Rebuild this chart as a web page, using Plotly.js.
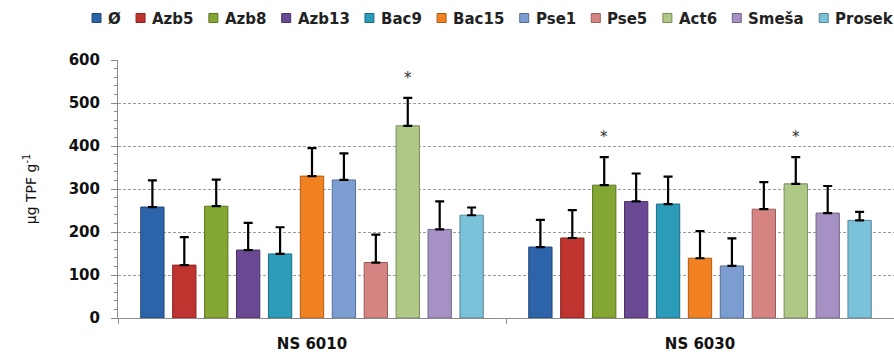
<!DOCTYPE html>
<html>
<head>
<meta charset="utf-8">
<script src="https://cdn.plot.ly/plotly-3.0.1.min.js"></script>
<style>html,body{margin:0;padding:0;background:#fff}#chart{width:894px;height:354px}</style>
</head>
<body>
<div id="chart"></div>
<script>
// ---- data ----
const categories = ['NS 6010', 'NS 6030'];
const seriesNames = ['Ø', 'Azb5', 'Azb8', 'Azb13', 'Bac9', 'Bac15', 'Pse1', 'Pse5', 'Act6', 'Smeša', 'Prosek'];
const valuesNS6010 = [258, 123, 260, 158, 149, 330, 321, 129, 447, 206, 239];
const valuesNS6030 = [165, 186, 309, 271, 265, 139, 121, 253, 312, 244, 227];
const errorsNS6010 = [62, 65, 62, 63, 62, 65, 62, 65, 65, 65, 18];
const errorsNS6030 = [63, 65, 65, 65, 64, 63, 64, 63, 62, 63, 20];
const significantNS6010 = [0, 0, 0, 0, 0, 0, 0, 0, 1, 0, 0];
const significantNS6030 = [0, 0, 1, 0, 0, 0, 0, 0, 1, 0, 0];
const yTickValues = [0, 100, 200, 300, 400, 500, 600];
const yTitle = 'μg TPF g<sup>-1</sup>';

// ---- styles ----
const colors = ['#2D64A9', '#C0342F', '#84A633', '#6A4893', '#2A9CBA', '#F28121', '#7B9DD2', '#D68482', '#AFC886', '#A591C4', '#7AC2D9'];
const edgeColors = ['#1E4676', '#86221F', '#5C7422', '#4A3267', '#1D6D82', '#A95A16', '#566E93', '#965C5B', '#7A8C5E', '#736589', '#558797'];

const W = 894, H = 354;
const M = {l: 118, r: 0, t: 60, b: 36};
const bargap = 0.095, bargroupgap = 0.27;
const plotW = W - M.l - M.r, plotH = H - M.t - M.b;
const font = "DejaVu Sans";

const traces = seriesNames.map((name, i) => ({
  type: 'bar',
  name: name,
  x: categories,
  y: [valuesNS6010[i], valuesNS6030[i]],
  marker: {color: colors[i], line: {color: edgeColors[i], width: 1}},
  error_y: {type: 'data', symmetric: false, array: [errorsNS6010[i], errorsNS6030[i]], arrayminus: [0, 0],
            color: '#000', thickness: 2.2, width: 4.5},
  showlegend: false,
  hoverinfo: 'x+y+name'
}));

const annotations = [];
const shapes = [];

// significance asterisks above error bars
const pitch = (plotW / categories.length) * (1 - bargap) / seriesNames.length;
const groups = [[valuesNS6010, errorsNS6010, significantNS6010], [valuesNS6030, errorsNS6030, significantNS6030]];
groups.forEach((g, ci) => {
  g[2].forEach((s, i) => {
    if (!s) return;
    annotations.push({
      x: categories[ci], y: g[0][i] + g[1][i], xref: 'x', yref: 'y',
      xshift: (i - (seriesNames.length - 1) / 2) * pitch, yshift: 20,
      text: '*', showarrow: false, yanchor: 'middle', xanchor: 'center',
      font: {family: font, size: 15, color: '#333'}
    });
  });
});

// manual legend across the top
const legendFont = 15;
const cv = document.createElement('canvas').getContext('2d');
cv.font = 'bold ' + legendFont + 'px "' + font + '"';
const textW = seriesNames.map(n => cv.measureText(n).width);
const legStart = 92, legEnd = 892, sq = 9, sqGap = 6;
const totalText = textW.reduce((a, b) => a + b, 0);
const itemGap = (legEnd - legStart - seriesNames.length * (sq + sqGap) - totalText) / (seriesNames.length - 1);
const legY = 18;
const px2x = p => (p - M.l) / plotW;
const py2y = p => 1 - (p - M.t) / plotH;
let cx = legStart;
seriesNames.forEach((n, i) => {
  shapes.push({type: 'rect', xref: 'paper', yref: 'paper',
    x0: px2x(cx), x1: px2x(cx + sq), y0: py2y(legY + sq / 2), y1: py2y(legY - sq / 2),
    fillcolor: colors[i], line: {color: edgeColors[i], width: 1}});
  annotations.push({xref: 'paper', yref: 'paper', x: px2x(cx + sq + sqGap), y: py2y(legY + 1),
    xanchor: 'left', yanchor: 'middle', showarrow: false, borderpad: 0,
    text: '<b>' + n + '</b>', font: {family: font, size: legendFont, color: '#222'}});
  cx += sq + sqGap + textW[i] + itemGap;
});

const layout = {
  width: W, height: H,
  margin: M,
  paper_bgcolor: '#fff', plot_bgcolor: '#fff',
  barmode: 'group', bargap: bargap, bargroupgap: bargroupgap,
  showlegend: false,
  font: {family: font, color: '#000'},
  xaxis: {
    type: 'category',
    showline: true, linecolor: '#8a8a8a', linewidth: 1,
    ticks: 'outside', tickson: 'boundaries', ticklen: 5, tickcolor: '#8a8a8a',
    tickfont: {family: font, size: 15, color: '#111'},
    tickvals: categories, ticktext: categories.map(c => '<b>' + c + '</b>'),
    ticklabelstandoff: 12,
    showgrid: false, zeroline: false
  },
  yaxis: {
    range: [0, 600], tickvals: yTickValues, ticktext: yTickValues.map(v => '<b>' + v + '</b>'),
    showline: true, linecolor: '#8a8a8a', linewidth: 1,
    ticks: 'outside', ticklen: 6, tickcolor: '#8a8a8a',
    minor: {dtick: 20, ticks: 'outside', ticklen: 3, tickcolor: '#8a8a8a', showgrid: false},
    tickfont: {family: font, size: 15, color: '#111'},
    ticklabelstandoff: 8,
    showgrid: true, gridcolor: '#9a9a9a', gridwidth: 1, griddash: '3px,2px',
    zeroline: false,
    title: {text: yTitle, font: {family: font, size: 14, color: '#111'}, standoff: 28}
  },
  shapes: shapes,
  annotations: annotations
};

Plotly.newPlot('chart', traces, layout, {displayModeBar: false, staticPlot: true});
</script>
</body>
</html>
